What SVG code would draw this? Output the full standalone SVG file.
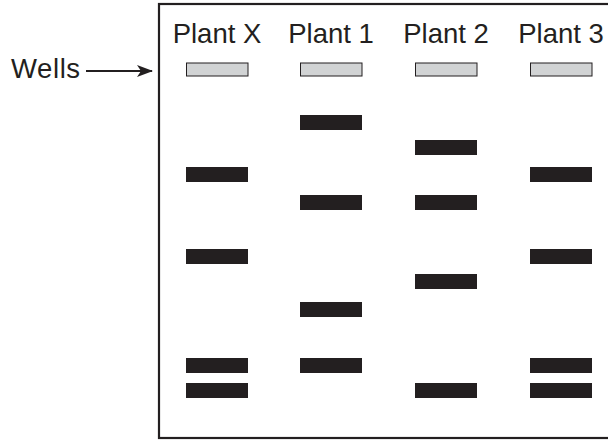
<svg xmlns="http://www.w3.org/2000/svg" width="608" height="440" viewBox="0 0 608 440">
<defs>
<style>
.lbl{font-family:"Liberation Sans",Arial,Helvetica,sans-serif;font-size:27.5px;fill:#231f20}
.well{fill:#d1d3d4;stroke:#231f20;stroke-width:1}
.band{fill:#231f20}
</style>
<marker id="ah" markerWidth="16" markerHeight="12" refX="15" refY="6" orient="auto" markerUnits="userSpaceOnUse">
<path d="M0,0 L16,6 L0,12 L4,6 Z" fill="#231f20"/>
</marker>
</defs>
<rect width="608" height="440" fill="#fff"/>
<g id="gel">
<rect x="159" y="4" width="460" height="434" fill="none" stroke="#231f20" stroke-width="2.2"/>
</g>
<g id="label-wells"><text class="lbl" x="11" y="78" letter-spacing="0.6">Wells</text></g>
<g id="connectors">
<line x1="86" y1="71" x2="152" y2="71" stroke="#231f20" stroke-width="2" marker-end="url(#ah)"/>
</g>
<g id="lane-x">
<text class="lbl" x="217" y="43" text-anchor="middle">Plant X</text>
<rect class="well" x="186.5" y="63" width="61.5" height="13"/>
<rect class="band" x="186" y="167" width="62" height="15"/>
<rect class="band" x="186" y="249" width="62" height="15"/>
<rect class="band" x="186" y="358" width="62" height="15"/>
<rect class="band" x="186" y="383" width="62" height="15"/>
</g>
<g id="lane-1">
<text class="lbl" x="331" y="43" text-anchor="middle">Plant 1</text>
<rect class="well" x="300.5" y="63" width="61.5" height="13"/>
<rect class="band" x="300" y="115" width="62" height="15"/>
<rect class="band" x="300" y="195" width="62" height="15"/>
<rect class="band" x="300" y="302" width="62" height="15"/>
<rect class="band" x="300" y="358" width="62" height="15"/>
</g>
<g id="lane-2">
<text class="lbl" x="446" y="43" text-anchor="middle">Plant 2</text>
<rect class="well" x="415.5" y="63" width="61.5" height="13"/>
<rect class="band" x="415" y="140" width="62" height="15"/>
<rect class="band" x="415" y="195" width="62" height="15"/>
<rect class="band" x="415" y="274" width="62" height="15"/>
<rect class="band" x="415" y="383" width="62" height="15"/>
</g>
<g id="lane-3">
<text class="lbl" x="561" y="43" text-anchor="middle">Plant 3</text>
<rect class="well" x="530.5" y="63" width="61.5" height="13"/>
<rect class="band" x="530" y="167" width="62" height="15"/>
<rect class="band" x="530" y="249" width="62" height="15"/>
<rect class="band" x="530" y="358" width="62" height="15"/>
<rect class="band" x="530" y="383" width="62" height="15"/>
</g>
</svg>
